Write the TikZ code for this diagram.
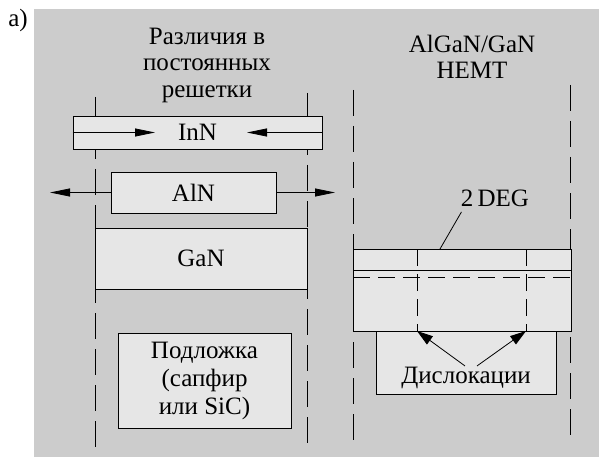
\documentclass[tikz,border=0pt]{standalone}
\usepackage{fontspec}
\setmainfont{Liberation Serif}
\usetikzlibrary{arrows.meta}
\definecolor{backgray}{HTML}{CCCCCC}
\definecolor{layergray}{HTML}{E6E6E6}

\begin{document}
\begin{tikzpicture}[x=1pt,y=-1pt,
        font=\fontsize{25}{26.5}\selectfont,
        layer/.style={draw=black, fill=layergray, line width=0.8pt, inner sep=0pt},
        guide/.style={black, line width=1pt, dash pattern=on 26pt off 10pt},
        fineguide/.style={black, line width=0.8pt, dash pattern=on 17pt off 8pt},
        push/.style={line width=0.8pt, -{Triangle[length=20pt,width=8pt]}},
        pointer/.style={line width=0.8pt, -{Triangle[length=16pt,width=10pt]}}]
        % Define dimensions
        \def\leftA{95}
        \def\leftB{307}
        \def\rightA{353}
        \def\rightB{570}
        \useasboundingbox (0,0) rectangle (599,457);
        % Background
        \fill[backgray] (34,9) rectangle (599,457);
        \node (label) at (18,20) {а)};
        % Dashed guide lines
        \foreach \x/\top/\bot in {\leftA/97/449, \leftB/93/449, \rightA/90/449, \rightB/85/436}
            \draw[guide] (\x,\top) -- (\x,\bot);
        % Left part: lattice mismatch
        \node[align=center] (mismatch) at (207,65) {Различия в\\постоянных\\решетки};
        \node[layer, minimum width=249pt, minimum height=33pt] (inn) at (197.5,132.5) {InN};
        \coordinate (innL) at (155,132.5);
        \coordinate (innR) at (247,132.5);
        \draw[push] (inn.west) -- (innL);
        \draw[push] (inn.east) -- (innR);
        \node[layer, minimum width=165pt, minimum height=41pt] (aln) at (193.5,192.5) {AlN};
        \coordinate (alnL) at (50,192.5);
        \coordinate (alnR) at (335,192.5);
        \draw[push] (aln.west) -- (alnL);
        \draw[push] (aln.east) -- (alnR);
        \node[layer, minimum width=212pt, minimum height=61pt] (gan) at (201,258.5) {GaN};
        \node[layer, minimum width=173pt, minimum height=95pt, align=center,
              font=\fontsize{25}{28}\selectfont] (substrate) at (204.5,380.5)
              {Подложка\\(сапфир\\или SiC)};
        % Right part: AlGaN/GaN HEMT
        \node[align=center] (hemttitle) at (472,57) {AlGaN/GaN\\HEMT};
        \node[layer, minimum width=180pt, minimum height=63pt] (buffer) at (466,362.5) {};
        \node[layer, minimum width=218pt, minimum height=82pt] (hemt) at (462,290) {};
        \draw[line width=0.8pt] (\rightA,270) -- (571,270);
        \draw[fineguide] (\rightA,277) -- (571,277);
        \coordinate (dislA) at (417,331);
        \coordinate (dislB) at (526,331);
        \draw[fineguide] (417,249) -- (dislA);
        \draw[fineguide] (526,249) -- (dislB);
        \node[inner sep=1pt] (dislo) at (466,378) {Дислокации};
        \draw[pointer] ([xshift=-1pt]dislo.north) -- (dislA);
        \draw[pointer] ([xshift=11pt]dislo.north) -- (dislB);
        \node (deg) at (495,198) {2\,DEG};
        \coordinate (degpt) at (440,249);
        \draw[line width=0.8pt] ([xshift=4pt,yshift=-2pt]deg.south west) -- (degpt);
    \end{tikzpicture}
\end{document}
